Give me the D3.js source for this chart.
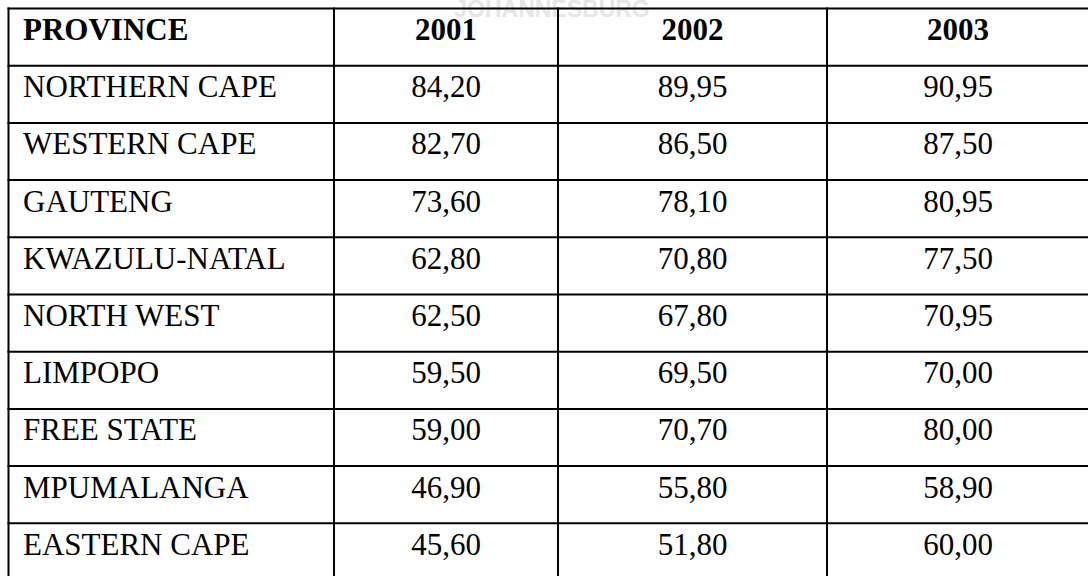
<html>
<head>
  <style>
    body { margin: 0; background: #fff; }
    svg { display: block; }
  </style>
</head>
<body>
<div id="mydiv"></div>
<script src="https://d3js.org/d3.v7.min.js"></script>
<script>

// table data
var headerLabel = "PROVINCE";
var years = ["2001", "2002", "2003"];
var provinces = ["NORTHERN CAPE", "WESTERN CAPE", "GAUTENG", "KWAZULU-NATAL", "NORTH WEST",
  "LIMPOPO", "FREE STATE", "MPUMALANGA", "EASTERN CAPE"];
var values2001 = [84.20, 82.70, 73.60, 62.80, 62.50, 59.50, 59.00, 46.90, 45.60];
var values2002 = [89.95, 86.50, 78.10, 70.80, 67.80, 69.50, 70.70, 55.80, 51.80];
var values2003 = [90.95, 87.50, 80.95, 77.50, 70.95, 70.00, 80.00, 58.90, 60.00];
var watermark = "JOHANNESBURG";

let width = 1088, height = 576;
let fontSize = 31;
let serif = "'Liberation Serif', 'Times New Roman', Times, serif";

let svg = d3.select("#mydiv")
  .append("svg")
    .attr("width", width)
    .attr("height", height);

// comma decimal like the source document
var fmt = d3.formatLocale({decimal: ",", thousands: " ", grouping: [3], currency: ["", ""]}).format(".2f");

// rows: header + provinces
var rowKeys = ["__header"].concat(provinces);
var y = d3.scaleBand()
  .domain(rowKeys)
  .range([8.5, 8.5 + 57.2 * rowKeys.length])
  .padding(0);

// column edges
var colKeys = ["province"].concat(years);
var colEdges = [8.5, 334, 558, 827, 1089];
var x0 = d3.scaleOrdinal().domain(colKeys).range(colEdges.slice(0, 4));
var x1 = d3.scaleOrdinal().domain(colKeys).range(colEdges.slice(1));

// faint watermark behind the table
svg.append("text")
  .attr("x", 552)
  .attr("y", 17)
  .attr("text-anchor", "middle")
  .style("font-family", "'Liberation Sans', Arial, sans-serif")
  .style("font-weight", "bold")
  .style("font-size", "23px")
  .style("fill", "#e6e6e6")
  .text(watermark);

var tableData = provinces.map(function(p, i) {
  return {province: p, "2001": values2001[i], "2002": values2002[i], "2003": values2003[i]};
});

var g = svg.append("g");

// header row
g.append("text")
  .attr("x", x0("province") + 14.5)
  .attr("y", y("__header") + 31)
  .style("font-family", serif)
  .style("font-weight", "bold")
  .style("font-size", fontSize + "px")
  .text(headerLabel);

g.selectAll(".yr")
  .data(years)
  .enter()
  .append("text")
  .attr("class", "yr")
  .attr("x", d => (x0(d) + x1(d)) / 2)
  .attr("y", y("__header") + 31)
  .attr("text-anchor", "middle")
  .style("font-family", serif)
  .style("font-weight", "bold")
  .style("font-size", fontSize + "px")
  .text(d => d);

// body rows
var rows = g.selectAll(".row")
  .data(tableData)
  .enter()
  .append("g")
  .attr("class", "row")
  .attr("transform", d => "translate(0," + (y(d.province) + 31.5) + ")");

rows.append("text")
  .attr("x", x0("province") + 14.5)
  .style("font-family", serif)
  .style("font-size", fontSize + "px")
  .text(d => d.province);

years.forEach(function(yr) {
  rows.append("text")
    .attr("x", (x0(yr) + x1(yr)) / 2)
    .attr("text-anchor", "middle")
    .style("font-family", serif)
    .style("font-size", fontSize + "px")
    .text(d => fmt(d[yr]));
});

// grid lines
var tableTop = y.range()[0], tableBottom = y.range()[1];
var hLines = rowKeys.map(k => y(k)).concat([tableBottom]);

svg.append("g")
  .selectAll("line")
  .data(hLines)
  .enter()
  .append("line")
  .attr("x1", colEdges[0] - 1)
  .attr("x2", colEdges[colEdges.length - 1] + 1)
  .attr("y1", d => d)
  .attr("y2", d => d)
  .attr("stroke", "black")
  .attr("stroke-width", 2);

svg.append("g")
  .selectAll("line")
  .data(colEdges)
  .enter()
  .append("line")
  .attr("x1", d => d)
  .attr("x2", d => d)
  .attr("y1", tableTop - 1)
  .attr("y2", tableBottom + 1)
  .attr("stroke", "black")
  .attr("stroke-width", 2);

</script>
</body>
</html>
